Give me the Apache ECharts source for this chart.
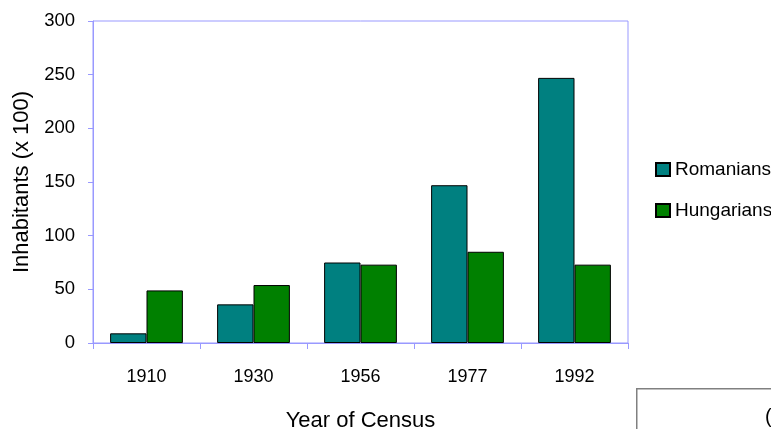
<!DOCTYPE html>
<html>
<head>
<meta charset="utf-8">
<script src="https://cdn.jsdelivr.net/npm/echarts@6/dist/echarts.min.js"></script>
<style>
html,body{margin:0;padding:0;background:#fff;}
#chart{width:771px;height:429px;}
</style>
</head>
<body>
<div id="chart"></div>
<script>
var categories = ['1910', '1930', '1956', '1977', '1992'];
var romanians = [9, 36, 75, 147, 247];
var hungarians = [49, 54, 73, 85, 73];
var yTicks = [0, 50, 100, 150, 200, 250, 300];

var FONT = '"Liberation Sans", Arial, sans-serif';
var chart = echarts.init(document.getElementById('chart'), null, {renderer: 'canvas'});
chart.setOption({
  animation: false,
  backgroundColor: '#ffffff',
  textStyle: {fontFamily: FONT},
  grid: {
    left: 93, top: 21, right: 143, bottom: 86,
    outerBoundsMode: 'none',
    containLabel: false,
    show: true, borderColor: '#9999ff', borderWidth: 1, backgroundColor: '#ffffff'
  },
  legend: {
    orient: 'vertical',
    left: 650, top: 155,
    icon: 'rect',
    itemWidth: 14, itemHeight: 13, itemGap: 22,
    textStyle: {fontFamily: FONT, fontSize: 19, color: '#000'},
    data: ['Romanians', 'Hungarians']
  },
  xAxis: {
    type: 'category',
    data: categories,
    boundaryGap: true,
    axisLine: {lineStyle: {color: '#9999ff', width: 1}},
    axisTick: {show: true, length: 6, lineStyle: {color: '#9999ff'}},
    axisLabel: {fontFamily: FONT, fontSize: 18, color: '#000', margin: 25},
    name: 'Year of Census',
    nameLocation: 'middle',
    nameGap: 67,
    nameTextStyle: {fontFamily: FONT, fontSize: 22, color: '#000'}
  },
  yAxis: {
    type: 'value',
    min: yTicks[0], max: yTicks[yTicks.length - 1], interval: yTicks[1] - yTicks[0],
    axisLine: {show: true, lineStyle: {color: '#9999ff', width: 1}},
    axisTick: {show: true, length: 5, lineStyle: {color: '#9999ff'}},
    splitLine: {show: false},
    axisLabel: {fontFamily: FONT, fontSize: 18.5, color: '#000', margin: 18},
    name: 'Inhabitants (x 100)',
    nameLocation: 'middle',
    nameGap: 60,
    nameTextStyle: {fontFamily: FONT, fontSize: 22, color: '#000'}
  },
  series: [
    {
      name: 'Romanians', type: 'bar', data: romanians,
      barGap: '0%', barCategoryGap: '32%',
      itemStyle: {color: '#008080', borderColor: '#000', borderWidth: 1}
    },
    {
      name: 'Hungarians', type: 'bar', data: hungarians,
      barGap: '0%', barCategoryGap: '32%',
      itemStyle: {color: '#008000', borderColor: '#000', borderWidth: 1}
    }
  ],
  graphic: [
    {
      type: 'rect', left: 636, top: 388,
      shape: {width: 200, height: 100},
      style: {fill: '#ffffff', stroke: '#808080', lineWidth: 1.5}
    },
    {
      type: 'text', left: 765, top: 407,
      style: {text: '(', font: '20px ' + FONT, fill: '#000'}
    }
  ]
});
</script>
</body>
</html>
